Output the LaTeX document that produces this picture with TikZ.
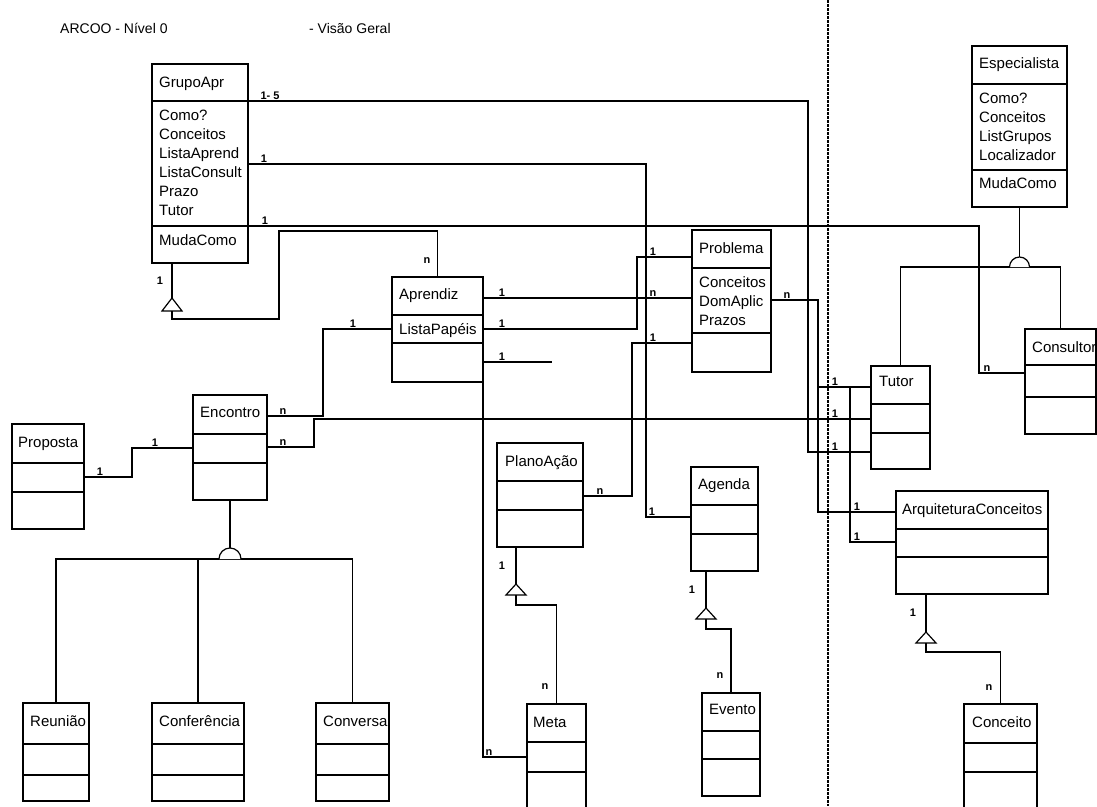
\documentclass[tikz,border=0pt]{standalone}
\usepackage{fontspec}
\setmainfont{Liberation Sans}
\usepackage{tikz}

\tikzset{
  classe/.style={draw, line width=1.8pt, inner sep=0pt, outer sep=0pt, anchor=north west},
  divisao/.style={line width=1.5pt},
  txt/.style={anchor=base west, inner sep=0pt, font=\fontsize{15}{19}\selectfont},
  mult/.style={anchor=south, inner sep=0pt, yshift=1pt, font=\fontsize{11}{13}\selectfont\bfseries},
  liga/.style={line width=1.2pt},
  heranca/.style={line width=1.2pt, fill=white},
  pontilhado/.style={line width=1.5pt, dash pattern=on 2.5pt off 1.5pt},
}

\begin{document}
\begin{tikzpicture}[x=1pt,y=-1pt]

	% Moldura
	\useasboundingbox (0,0) rectangle (1097,806);

	% Titulo
	\node[txt, font=\fontsize{14}{16}\selectfont] (titulo) at (60,33) {ARCOO - Nível 0};
	\node[txt, font=\fontsize{14}{16}\selectfont] (subtitulo) at (309,33) {- Visão Geral};

	% Separacao
	\draw[pontilhado] (828,0) -- (828,806);

	% Classes
	\node[classe, minimum width=96pt, minimum height=199pt] (grupo) at (152,64) {};
	\node[txt] (grupoNome) at (159,87) {GrupoApr};
	\foreach \t [count=\i] in {Como?,Conceitos,ListaAprend,ListaConsult,Prazo,Tutor}
		\node[txt] (grupoAt\i) at (159,{101+19*\i}) {\t};
	\node[txt] (grupoMet) at (159,245) {MudaComo};

	\node[classe, minimum width=95pt, minimum height=161pt] (espec) at (972,46) {};
	\node[txt] (especNome) at (979,68) {Especialista};
	\foreach \t [count=\i] in {Como?,Conceitos,ListGrupos,Localizador}
		\node[txt] (especAt\i) at (979,{84+19*\i}) {\t};
	\node[txt] (especMet) at (979,188) {MudaComo};

	\node[classe, minimum width=91pt, minimum height=105pt] (aprendiz) at (392,277) {};
	\node[txt] (aprendizNome) at (399,299) {Aprendiz};
	\node[txt] (aprendizAt) at (399,334) {ListaPapéis};

	\node[classe, minimum width=79pt, minimum height=142pt] (problema) at (692,230) {};
	\node[txt] (problemaNome) at (699,253) {Problema};
	\foreach \t [count=\i] in {Conceitos,DomAplic,Prazos}
		\node[txt] (problemaAt\i) at (699,{268+19*\i}) {\t};

	\node[classe, minimum width=59pt, minimum height=103pt] (tutor) at (871,366) {};
	\node[txt] (tutorNome) at (879,386) {Tutor};

	\node[classe, minimum width=71pt, minimum height=105pt] (consultor) at (1025,329) {};
	\node[txt] (consultorNome) at (1032,352) {Consultor};

	\node[classe, minimum width=152pt, minimum height=103pt] (arq) at (896,491) {};
	\node[txt] (arqNome) at (902,514) {ArquiteturaConceitos};

	\node[classe, minimum width=74pt, minimum height=105pt] (encontro) at (193,395) {};
	\node[txt] (encontroNome) at (200,417) {Encontro};

	\node[classe, minimum width=72pt, minimum height=105pt] (proposta) at (12,424) {};
	\node[txt] (propostaNome) at (18,447) {Proposta};

	\node[classe, minimum width=86pt, minimum height=104pt] (plano) at (497,443) {};
	\node[txt] (planoNome) at (505,466) {PlanoAção};

	\node[classe, minimum width=67pt, minimum height=104pt] (agenda) at (691,467) {};
	\node[txt] (agendaNome) at (698,489) {Agenda};

	\node[classe, minimum width=59pt, minimum height=110pt] (meta) at (527,704) {};
	\node[txt] (metaNome) at (533,727) {Meta};

	\node[classe, minimum width=58pt, minimum height=103pt] (evento) at (702,693) {};
	\node[txt] (eventoNome) at (709,714) {Evento};

	\node[classe, minimum width=73pt, minimum height=110pt] (conceito) at (964,704) {};
	\node[txt] (conceitoNome) at (972,727) {Conceito};

	\foreach \n/\t/\xa/\w in {reuniao/Reunião/23/66,conferencia/Conferência/152/92,conversa/Conversa/316/73}{
		\node[classe, minimum width=\w pt, minimum height=98pt] (\n) at (\xa,703) {};
		\node[txt] (\n-nome) at ({\xa+7},726) {\t};
	}

	% Compartimentos
	\foreach \c/\y in {grupo/101,grupo/226,espec/84,espec/170,aprendiz/315,aprendiz/343,
		problema/268,problema/333,tutor/404,tutor/433,consultor/365,consultor/397,
		arq/529,arq/557,encontro/434,encontro/463,proposta/463,proposta/492,
		plano/481,plano/510,agenda/505,agenda/534,meta/742,meta/772,evento/731,evento/759,
		conceito/743,conceito/772,reuniao/744,reuniao/775,conferencia/744,conferencia/775,
		conversa/744,conversa/775}
		\draw[divisao] (\c.west |- 0,\y) -- (\c.east |- 0,\y);

	% Pontos de apoio
	\coordinate (tGrupo) at (172,298);
	\coordinate (tPlano) at (516,584);
	\coordinate (tAgenda) at (706,608);
	\coordinate (tArq) at (926,632);
	\coordinate (encBase) at (230,559);
	\coordinate (especBase) at (1019.5,267);
	\coordinate (aprFim) at (552,362);

	% Associacoes
	\draw[liga] (grupo.east |- 0,101) -- (808,101) |- (tutor.west |- 0,452);
	\draw[liga] (grupo.east |- 0,164) -- (646,164) |- (agenda.west |- 0,517);
	\draw[liga] (grupo.east |- 0,226) -- (979,226) |- (consultor.west |- 0,373);
	\draw[liga] (aprendiz.east |- 0,298) -- (problema.west |- 0,298);
	\draw[liga] (aprendiz.east |- 0,329) -- (637,329) |- (problema.west |- 0,257);
	\draw[liga] (aprendiz.east |- 0,362) -- (aprFim);
	\draw[liga] (aprendiz.south east) |- (meta.west |- 0,757);
	\draw[liga] (aprendiz.west |- 0,329) -- (323,329) |- (encontro.east |- 0,416);
	\draw[liga] (encontro.east |- 0,447) -- (314,447) |- (tutor.west |- 0,419);
	\draw[liga] (proposta.east |- 0,477) -- (132,477) |- (encontro.west |- 0,448);
	\draw[liga] (plano.east |- 0,496) -- (632,496) |- (problema.west |- 0,343);
	\draw[liga] (problema.east |- 0,300) -- (818,300) |- (arq.west |- 0,512);
	\draw[liga] (tutor.west |- 0,387) -- (818,387);
	\draw[liga] (850,387) |- (arq.west |- 0,542);

	% Heranca
	\draw[liga] (172,0 |- grupo.south) -- (tGrupo);
	\draw[heranca] (tGrupo) -- ++(-10,13) -- ++(20,0) -- cycle;
	\draw[liga] (172,311) -- (172,319) -- (279,319) -- (279,231) -| (aprendiz.north);

	\draw[liga] (516,0 |- plano.south) -- (tPlano);
	\draw[heranca] (tPlano) -- ++(-10,11) -- ++(20,0) -- cycle;
	\draw[liga] (516,595) -- (516,605) -| (meta.north);

	\draw[liga] (706,0 |- agenda.south) -- (tAgenda);
	\draw[heranca] (tAgenda) -- ++(-10,11) -- ++(20,0) -- cycle;
	\draw[liga] (706,619) -- (706,629) -| (evento.north);

	\draw[liga] (926,0 |- arq.south) -- (tArq);
	\draw[heranca] (tArq) -- ++(-10,11) -- ++(20,0) -- cycle;
	\draw[liga] (926,643) -- (926,652) -| (conceito.north);

	\draw[liga] (encontro.south) -- (230,548);
	\draw[liga] (reuniao.north) |- (encBase) -| (conversa.north);
	\draw[liga] (conferencia.north) -- (conferencia.north |- encBase);
	\draw[heranca] (219,559) arc[start angle=180, end angle=360, radius=11];

	\draw[liga] (espec.south) -- (1019.5,257);
	\draw[liga] (tutor.north) |- (especBase) -| (consultor.north);
	\draw[heranca] (1009.5,267) arc[start angle=180, end angle=360, radius=10];

	% Multiplicidades
	\node[mult] (m1) at (270,101) {1- 5};
	\node[mult] (m2) at (264,164) {1};
	\node[mult] (m3) at (265,226) {1};
	\node[mult, anchor=center] (m4) at (160,282) {1};
	\node[mult, anchor=center] (m5) at (427,262) {n};
	\node[mult] (m6) at (502,298) {1};
	\node[mult] (m7) at (502,329) {1};
	\node[mult] (m8) at (502,362) {1};
	\node[mult] (m9) at (653,298) {n};
	\node[mult] (m10) at (653,257) {1};
	\node[mult] (m11) at (653,343) {1};
	\node[mult] (m12) at (787,300) {n};
	\node[mult] (m13) at (600,496) {n};
	\node[mult] (m14) at (652,517) {1};
	\node[mult] (m15) at (353,329) {1};
	\node[mult] (m16) at (283,416) {n};
	\node[mult] (m17) at (283,447) {n};
	\node[mult] (m18) at (100,477) {1};
	\node[mult] (m19) at (155,448) {1};
	\node[mult] (m20) at (835,387) {1};
	\node[mult] (m21) at (835,419) {1};
	\node[mult] (m22) at (835,452) {1};
	\node[mult] (m23) at (857,512) {1};
	\node[mult] (m24) at (857,542) {1};
	\node[mult] (m25) at (987,373) {n};
	\node[mult] (m26) at (489,757) {n};
	\node[mult, anchor=center] (m27) at (502,567) {1};
	\node[mult, anchor=center] (m28) at (545,688) {n};
	\node[mult, anchor=center] (m29) at (692,591) {1};
	\node[mult, anchor=center] (m30) at (720,677) {n};
	\node[mult, anchor=center] (m31) at (913,614) {1};
	\node[mult, anchor=center] (m32) at (989,689) {n};

\end{tikzpicture}
\end{document}
